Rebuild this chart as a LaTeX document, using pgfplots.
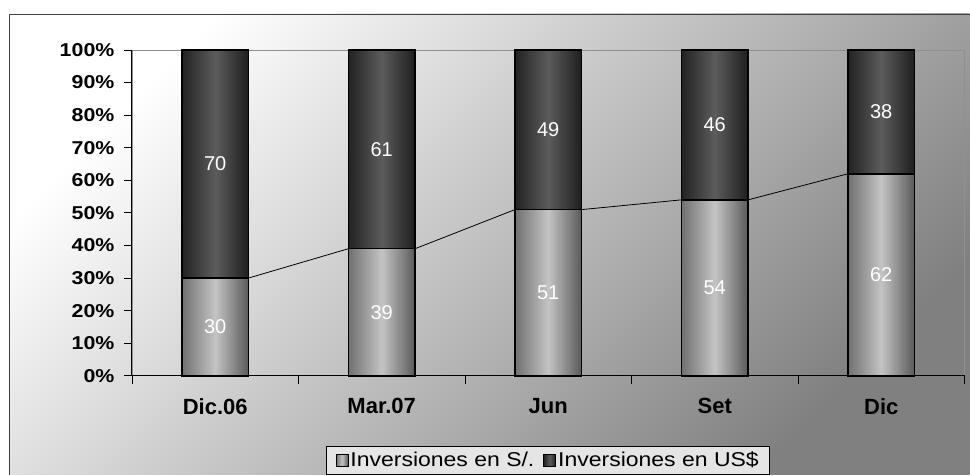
\documentclass[border=0pt]{standalone}
\usepackage{pgfplots}
\pgfplotsset{compat=1.18}
\usepackage{fontspec}
\setmainfont{Liberation Sans}
\newfontfamily\widefont{Liberation Sans}[FakeStretch=1.15]
\definecolor{frame}{HTML}{404040}
\definecolor{lA}{HTML}{707070}
\definecolor{lB}{HTML}{C4C4C4}
\definecolor{lC}{HTML}{5A5A5A}
\definecolor{dA}{HTML}{222222}
\definecolor{dB}{HTML}{5C5C5C}
\definecolor{dC}{HTML}{1E1E1E}
\definecolor{plotframe}{HTML}{909090}
\begin{document}
\begin{tikzpicture}
\fill[white] (0pt,0pt) rectangle (970pt,475pt);
\shade[top color=white, bottom color=black!50, shading angle=45] (9pt,0pt) rectangle (970pt,461pt);
\draw[frame, line width=1pt] (9.5pt,0pt) -- (9.5pt,460.5pt) -- (970pt,460.5pt);
\begin{axis}[
  at={(132pt,99pt)}, anchor=south west, scale only axis,
  width=833pt, height=326pt,
  xmin=-0.5, xmax=4.5, ymin=0, ymax=100,
  ybar stacked, bar width=0.4,
  axis line style={draw=plotframe, line width=0.8pt},
  tick align=outside, tick pos=left,
  major tick length=8pt,
  tick style={black, line width=0.8pt},
  ytick={0,10,...,100},
  yticklabels={0\%,10\%,20\%,30\%,40\%,50\%,60\%,70\%,80\%,90\%,100\%},
  yticklabel style={font=\widefont\bfseries\fontsize{18.6}{20}\selectfont, xshift=-6pt},
  xtick={-0.5,0.5,1.5,2.5,3.5,4.5},
  xticklabel=\empty,
  extra x ticks={0,1,2,3,4},
  extra x tick labels={Dic.06,Mar.07,Jun,Set,Dic},
  extra x tick style={major tick length=0pt,
    tick label style={font=\bfseries\fontsize{22}{24}\selectfont, yshift=-19pt}},
  legend style={at={(0.5,-0.3037)}, anchor=south, legend columns=2,
    draw=black, line width=0.8pt, fill=black!10,
    font=\widefont\fontsize{20}{22}\selectfont,
    inner xsep=9pt, inner ysep=4pt,
    /tikz/every even column/.append style={column sep=7pt}},
  visualization depends on={rawy \as \ry},
  nodes near coords={\pgfmathprintnumber[fixed,precision=0,assume math mode=true]{\ry}},
  after end axis/.code={\draw[black, line width=0.9pt] (rel axis cs:0,1) -- (rel axis cs:0,0) -- (rel axis cs:1,0);},
]
\addplot[draw=black, line width=1.5pt, fill=lA,
  nodes near coords style={anchor=center, minimum width=66.64pt, minimum height=\ry*3.26pt,
    inner sep=0pt, draw=black, line width=1.5pt,
    left color=lA, right color=lC, middle color=lB,
    text=white, font=\fontsize{20}{24}\selectfont},
  legend image code/.code={\draw[black, line width=0.8pt, left color=lA, right color=lC, middle color=lB] (0pt,-6pt) rectangle (12pt,6pt);}]
  coordinates {(0,30) (1,39) (2,51) (3,54) (4,62)};
\addlegendentry{Inversiones en S/.}
\addplot[draw=black, line width=1.5pt, fill=dA,
  nodes near coords style={anchor=center, minimum width=66.64pt, minimum height=\ry*3.26pt,
    inner sep=0pt, draw=black, line width=1.5pt,
    left color=dA, right color=dC, middle color=dB,
    text=white, font=\fontsize{20}{24}\selectfont},
  legend image code/.code={\draw[black, line width=0.8pt, left color=dA, right color=dC, middle color=dB] (0pt,-6pt) rectangle (12pt,6pt);}]
  coordinates {(0,70) (1,61) (2,49) (3,46) (4,38)};
\addlegendentry{Inversiones en US\$}
\end{axis}
\begin{axis}[
  at={(132pt,99pt)}, anchor=south west, scale only axis,
  width=833pt, height=326pt,
  xmin=-0.5, xmax=4.5, ymin=0, ymax=100,
  hide axis, clip=false,
]
\addplot[black, line width=0.8pt] coordinates {(0.2,30) (0.8,39)};
\addplot[black, line width=0.8pt] coordinates {(1.2,39) (1.8,51)};
\addplot[black, line width=0.8pt] coordinates {(2.2,51) (2.8,54)};
\addplot[black, line width=0.8pt] coordinates {(3.2,54) (3.8,62)};
\end{axis}
\end{tikzpicture}
\end{document}
